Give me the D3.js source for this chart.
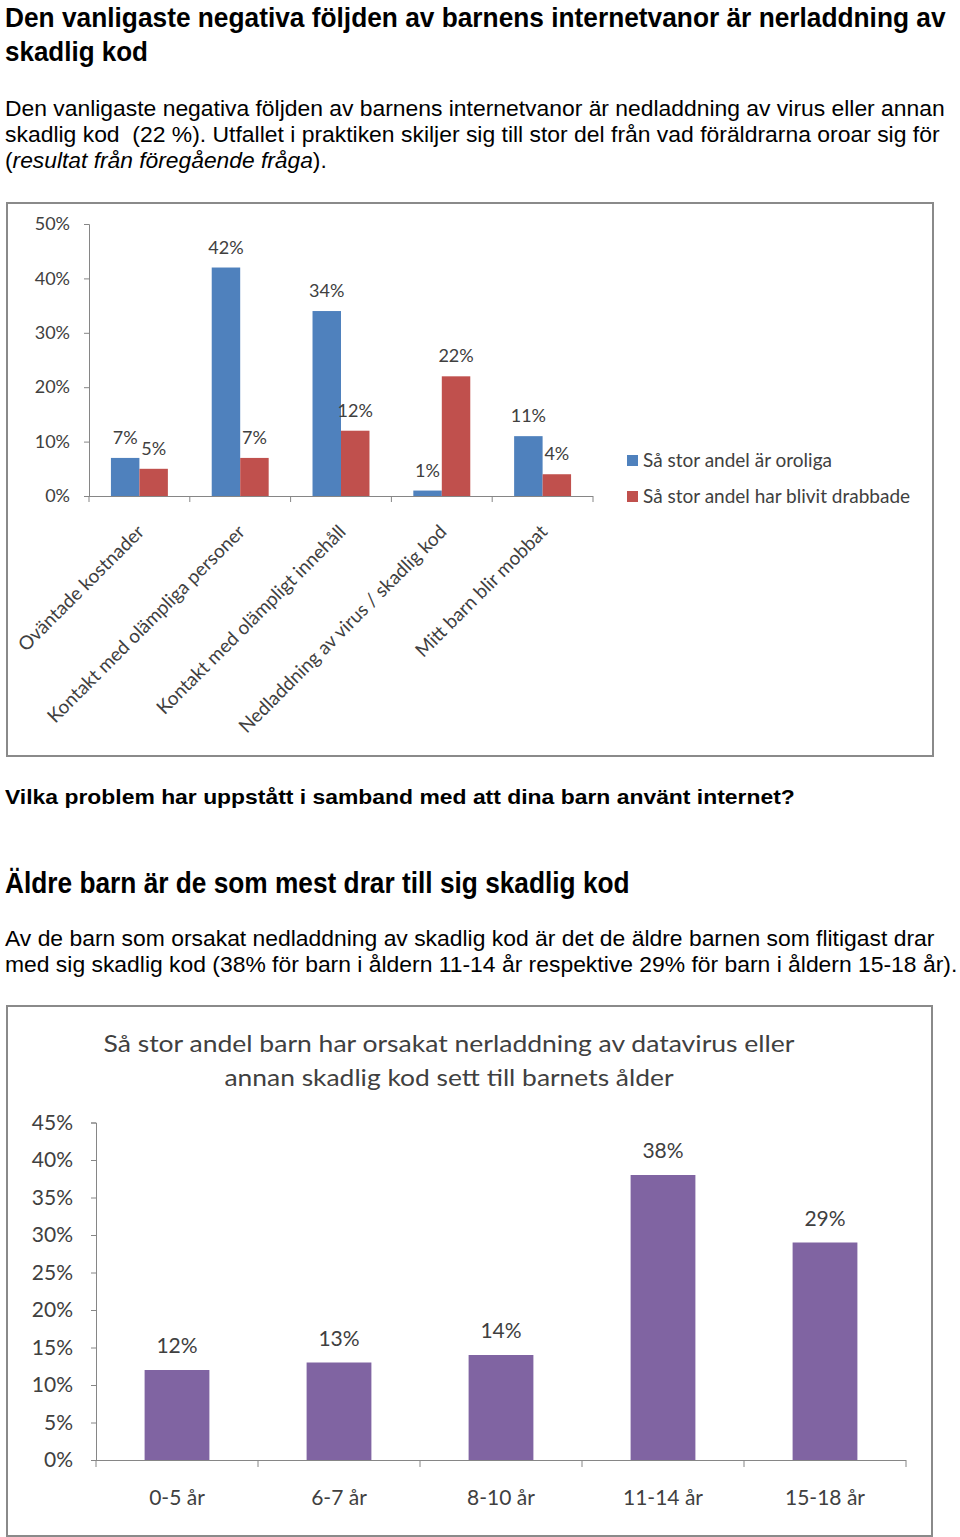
<!DOCTYPE html>
<html><head><meta charset="utf-8">
<script src="https://cdn.jsdelivr.net/npm/d3@7"></script>
<style>
html,body{margin:0;padding:0;background:#fff;}
svg{display:block;}
text{white-space:pre;}
</style></head>
<body>
<script>
// ---------- DATA ----------
const problemCategories = ["Oväntade kostnader","Kontakt med olämpliga personer","Kontakt med olämpligt innehåll","Nedladdning av virus / skadlig kod","Mitt barn blir mobbat"];
const seriesNames = ["Så stor andel är oroliga","Så stor andel har blivit drabbade"];
const worriedValues = [7,42,34,1,11];
const affectedValues = [5,7,12,22,4];
const problemTicks = [0,10,20,30,40,50];

const ageGroups = ["0-5 år","6-7 år","8-10 år","11-14 år","15-18 år"];
const ageValues = [12,13,14,38,29];
const ageTicks = [0,5,10,15,20,25,30,35,40,45];

const chart2Title = ["Så stor andel barn har orsakat nerladdning av datavirus eller","annan skadlig kod sett till barnets ålder"];

// ---------- PAGE ----------
const W = 960, H = 1537;
const svg = d3.select("body").append("svg").attr("width",W).attr("height",H);
svg.append("rect").attr("width",W).attr("height",H).attr("fill","#fff");

const docFont = "'Liberation Sans', Arial, sans-serif";
const narrowFont = "'Liberation Sans Narrow', 'Liberation Sans', Arial, sans-serif";
const chartFont = "Lato, 'Open Sans', sans-serif";
const textCol = "#404040";

// document text: drawn at natural width, then scaled horizontally to the measured width
function docText(x,y,str,len,opts){
  const g = svg.append("g").attr("transform",`translate(${x},${y})`);
  const t = g.append("text").attr("x",0).attr("y",0)
    .attr("font-family",opts.family||docFont).attr("font-size",opts.size)
    .attr("font-weight",opts.weight||"normal").attr("fill","#000");
  if (Array.isArray(str)) {
    str.forEach(s=>t.append("tspan").attr("font-style",s.italic?"italic":"normal").text(s.t));
  } else t.text(str);
  const nat = t.node().getComputedTextLength();
  if (nat>0) g.attr("transform",`translate(${x},${y}) scale(${len/nat},1)`);
  return t;
}

docText(5,26.5,"Den vanligaste negativa följden av barnens internetvanor är nerladdning av",941,{family:narrowFont,size:28.5,weight:"bold"});
docText(5,61,"skadlig kod",143,{family:narrowFont,size:28.5,weight:"bold"});
docText(5,116,"Den vanligaste negativa följden av barnens internetvanor är nedladdning av virus eller annan",940,{size:22});
docText(5,142,"skadlig kod  (22 %). Utfallet i praktiken skiljer sig till stor del från vad föräldrarna oroar sig för",935,{size:22});
docText(5,168,[{t:"("},{t:"resultat från föregående fråga",italic:true},{t:")."}],322,{size:22});
docText(5,804,"Vilka problem har uppstått i samband med att dina barn använt internet?",790,{size:21,weight:"bold"});
docText(5,893,"Äldre barn är de som mest drar till sig skadlig kod",625,{family:narrowFont,size:29,weight:"bold"});
docText(5,946,"Av de barn som orsakat nedladdning av skadlig kod är det de äldre barnen som flitigast drar",930,{size:22});
docText(5,972,"med sig skadlig kod (38% för barn i åldern 11-14 år respektive 29% för barn i åldern 15-18 år).",953,{size:22});

// ---------- CHART 1 ----------
svg.append("rect").attr("x",7).attr("y",203).attr("width",926).attr("height",553)
  .attr("fill","#fff").attr("stroke","#8a8a8a").attr("stroke-width",2);

const c1 = {left:89, right:593, top:224, bottom:496};
const y1 = d3.scaleLinear().domain([0,50]).range([c1.bottom,c1.top]);
const x1 = d3.scaleBand().domain(problemCategories).range([c1.left,c1.right]).paddingInner(0.435).paddingOuter(0.2175);
const xs1 = d3.scaleBand().domain([0,1]).range([0,x1.bandwidth()]);
const colors1 = ["#4F81BD","#C0504D"];
const seriesVals = [worriedValues, affectedValues];

const g1 = svg.append("g");
const yAxis1 = d3.axisLeft(y1).tickValues(problemTicks).tickFormat(d=>d+"%").tickSize(5).tickPadding(14);
const ya1 = g1.append("g").attr("transform",`translate(${c1.left},0)`).call(yAxis1);
ya1.select(".domain").attr("stroke","#868686");
ya1.selectAll(".tick line").attr("stroke","#868686");
ya1.selectAll(".tick text").attr("font-family",chartFont).attr("font-size",18).attr("fill",textCol);

g1.append("line").attr("x1",c1.left).attr("x2",c1.right).attr("y1",c1.bottom+0.5).attr("y2",c1.bottom+0.5).attr("stroke","#868686");
const bounds1 = problemCategories.map(c=>x1(c)-x1.step()*x1.paddingInner()/2).concat([c1.right]);
g1.selectAll(".xt1").data(bounds1).join("line").attr("x1",d=>d).attr("x2",d=>d)
  .attr("y1",c1.bottom).attr("y2",c1.bottom+6).attr("stroke","#868686");

seriesVals.forEach((vals,si)=>{
  g1.selectAll(".bar"+si).data(vals).join("rect")
    .attr("x",(d,i)=>x1(problemCategories[i])+xs1(si))
    .attr("y",d=>y1(d)).attr("width",xs1.bandwidth()).attr("height",d=>c1.bottom-y1(d))
    .attr("fill",colors1[si]);
  g1.selectAll(".lab"+si).data(vals).join("text")
    .attr("x",(d,i)=>x1(problemCategories[i])+xs1(si)+xs1.bandwidth()/2)
    .attr("y",d=>y1(d)-14).attr("text-anchor","middle")
    .attr("font-family",chartFont).attr("font-size",18).attr("fill",textCol)
    .text(d=>d+"%");
});

g1.selectAll(".cat1").data(problemCategories).join("text")
  .attr("transform",d=>`translate(${x1(d)+x1.bandwidth()/2+6},${c1.bottom+37}) rotate(-45)`)
  .attr("text-anchor","end").attr("font-family",chartFont).attr("font-size",19).attr("fill",textCol)
  .text(d=>d);

const leg = g1.selectAll(".leg").data(seriesNames).join("g")
  .attr("transform",(d,i)=>`translate(627,${455+i*36})`);
leg.append("rect").attr("width",11).attr("height",11).attr("fill",(d,i)=>colors1[i]);
leg.append("text").attr("x",16).attr("y",12).attr("font-family",chartFont).attr("font-size",19)
  .attr("fill",textCol).text(d=>d);

// ---------- CHART 2 ----------
svg.append("rect").attr("x",7).attr("y",1006).attr("width",925).attr("height",530)
  .attr("fill","#fff").attr("stroke","#8a8a8a").attr("stroke-width",2);

const g2 = svg.append("g");
g2.selectAll(".t2").data(chart2Title).join("text")
  .attr("x",449).attr("y",(d,i)=>1052+i*34).attr("text-anchor","middle")
  .attr("font-family",chartFont).attr("font-size",24).attr("fill",textCol)
  .attr("textLength",(d,i)=>[691,449][i]).attr("lengthAdjust","spacingAndGlyphs")
  .text(d=>d);

const c2 = {left:96, right:906, top:1122.5, bottom:1460};
const y2 = d3.scaleLinear().domain([0,45]).range([c2.bottom,c2.top]);
const x2 = d3.scaleBand().domain(ageGroups).range([c2.left,c2.right]).paddingInner(0.6).paddingOuter(0.3);

const yAxis2 = d3.axisLeft(y2).tickValues(ageTicks).tickFormat(d=>d+"%").tickSize(5).tickPadding(18);
const ya2 = g2.append("g").attr("transform",`translate(${c2.left},0)`).call(yAxis2);
ya2.select(".domain").attr("stroke","#868686");
ya2.selectAll(".tick line").attr("stroke","#868686");
ya2.selectAll(".tick text").attr("font-family",chartFont).attr("font-size",21).attr("fill",textCol);

g2.append("line").attr("x1",c2.left).attr("x2",c2.right).attr("y1",c2.bottom+0.5).attr("y2",c2.bottom+0.5).attr("stroke","#868686");
const bounds2 = ageGroups.map(c=>x2(c)-x2.step()*x2.paddingInner()/2).concat([c2.right]);
g2.selectAll(".xt2").data(bounds2).join("line").attr("x1",d=>d).attr("x2",d=>d)
  .attr("y1",c2.bottom).attr("y2",c2.bottom+7).attr("stroke","#868686");

g2.selectAll(".bar2").data(ageValues).join("rect")
  .attr("x",(d,i)=>x2(ageGroups[i])).attr("y",d=>y2(d))
  .attr("width",x2.bandwidth()).attr("height",d=>c2.bottom-y2(d)).attr("fill","#8064A2");
g2.selectAll(".lab2").data(ageValues).join("text")
  .attr("x",(d,i)=>x2(ageGroups[i])+x2.bandwidth()/2).attr("y",d=>y2(d)-17)
  .attr("text-anchor","middle").attr("font-family",chartFont).attr("font-size",21).attr("fill",textCol)
  .text(d=>d+"%");
g2.selectAll(".cat2").data(ageGroups).join("text")
  .attr("x",d=>x2(d)+x2.bandwidth()/2).attr("y",1505).attr("text-anchor","middle")
  .attr("font-family",chartFont).attr("font-size",21).attr("fill",textCol)
  .text(d=>d);
</script>
</body></html>
